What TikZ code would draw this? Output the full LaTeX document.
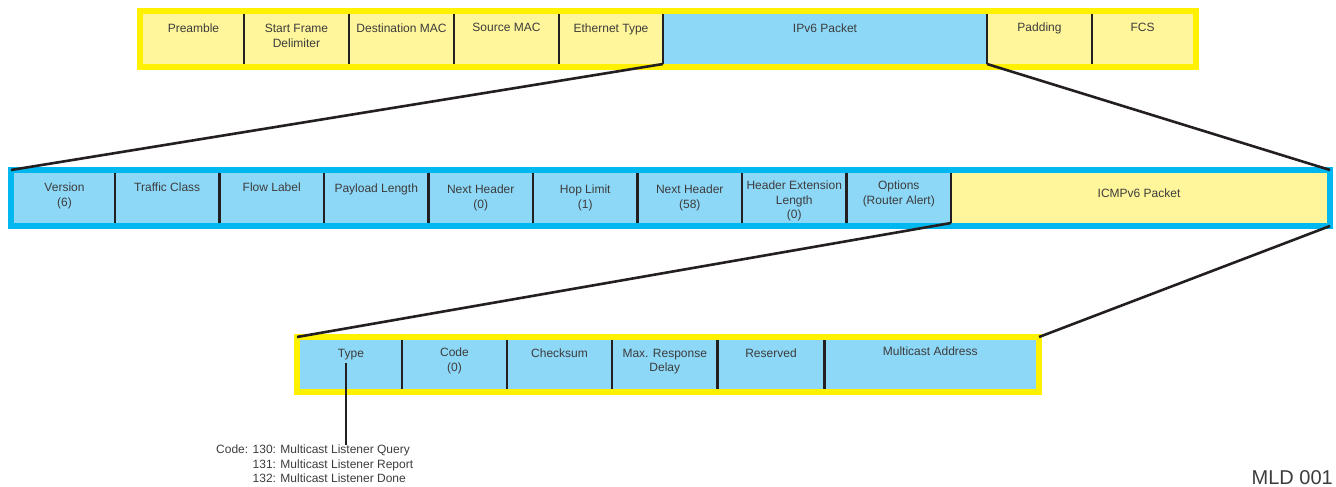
\documentclass[tikz,border=0pt]{standalone}
\usepackage{fontspec}
\setmainfont{Liberation Sans}
\usetikzlibrary{positioning,calc}
\definecolor{ylwB}{HTML}{FFF100}
\definecolor{ylwF}{HTML}{FFF59B}
\definecolor{cynB}{HTML}{00B8EF}
\definecolor{bluF}{HTML}{8ED8F7}
\definecolor{txt}{HTML}{3C3C3C}
\definecolor{ink}{HTML}{231F20}
\tikzset{
  frameY/.style={draw=ylwB, line width=6pt, inner sep=0pt, outer sep=0pt, anchor=north west},
  frameC/.style={draw=cynB, line width=6pt, inner sep=0pt, outer sep=0pt, anchor=north west},
  fld/.style={inner sep=0pt, outer sep=0pt, anchor=north west, minimum height=#1},
  ftxt/.style={font=\fontsize{12}{14.5}\selectfont, text=txt, align=center, anchor=north, inner sep=0pt},
  ctxt/.style={font=\fontsize{12}{14.2}\selectfont, text=txt, align=left, anchor=north west, inner sep=0pt},
  divd/.style={ink, line width=2.8pt},
  zoomln/.style={ink, line width=2.6pt},
  tick/.style={ink, line width=1.3pt},
}

\begin{document}
\begin{tikzpicture}[x=1pt,y=-1pt]
\useasboundingbox (0,0) rectangle (1336,487);

% ============ top row: Ethernet frame ============
\foreach \xa/\xb/\nm/\col/\dy/\txt in {
  143/244/pre/ylwF/10/Preamble,
  244/349/sfd/ylwF/10/{Start Frame\\Delimiter},
  349/454/dmac/ylwF/10/Destination MAC,
  454/559/smac/ylwF/9/Source MAC,
  559/663/etyp/ylwF/10/Ethernet Type,
  663/987/ipv6/bluF/10/IPv6 Packet,
  987/1092/pad/ylwF/9/Padding,
  1092/1193/fcs/ylwF/9/FCS}{
  \node[fld=50, fill=\col, minimum width={\xb-\xa}] (\nm) at (\xa,14) {};
  \node[ftxt] (t\nm) at ([yshift=-\dy]\nm.north) {\txt};}
\node[frameY, minimum width=1056, minimum height=56] (eth) at (140,11) {};
\foreach \nm in {pre,sfd,dmac,smac,etyp,ipv6,pad}
  \draw[divd] (\nm.north east) -- (\nm.south east);

% ============ middle row: IPv6 header ============
\foreach \xa/\xb/\nm/\col/\dy/\txt in {
  14/115/ver/bluF/10/{Version\\(6)},
  115/219.5/tcls/bluF/10/Traffic Class,
  219.5/324/flbl/bluF/10/Flow Label,
  324/428.5/plen/bluF/11/Payload Length,
  428.5/533/nhz/bluF/12/{Next Header\\(0)},
  533/637.5/hlim/bluF/12/{Hop Limit\\(1)},
  637.5/742/nhi/bluF/12/{Next Header\\(58)},
  742/846.5/hel/bluF/8/{Header Extension\\Length\\(0)},
  846.5/951/opts/bluF/8/{Options\\(Router Alert)},
  951/1327/icmpv6/ylwF/16/ICMPv6 Packet}{
  \node[fld=50, fill=\col, minimum width={\xb-\xa}] (\nm) at (\xa,173) {};
  \node[ftxt] (t\nm) at ([yshift=-\dy]\nm.north) {\txt};}
\node[frameC, minimum width=1319, minimum height=56] (ipv) at (11,170) {};
\foreach \nm in {ver,tcls,flbl,plen,nhz,hlim,nhi,hel,opts}
  \draw[divd] (\nm.north east) -- (\nm.south east);

% ============ bottom row: MLD message ============
\foreach \xa/\xb/\nm/\col/\dy/\txt in {
  300/402/type/bluF/9/Type,
  402/507/code/bluF/8/{Code\\(0)},
  507/612/csum/bluF/9/Checksum,
  612/717.5/mrd/bluF/9/{Max. Response\\Delay},
  717.5/824.5/rsv/bluF/9/Reserved,
  824.5/1036/madr/bluF/7/Multicast Address}{
  \node[fld=49, fill=\col, minimum width={\xb-\xa}] (\nm) at (\xa,340) {};
  \node[ftxt] (t\nm) at ([yshift=-\dy]\nm.north) {\txt};}
\node[frameY, minimum width=742, minimum height=55] (icmp) at (297,337) {};
\foreach \nm in {type,code,csum,mrd,rsv}
  \draw[divd] (\nm.north east) -- (\nm.south east);

% zoom lines between the rows
\draw[zoomln] (ipv6.south west) -- (ipv.north west);
\draw[zoomln] (ipv6.south east) -- (ipv.north east);
\draw[zoomln] (icmpv6.south west) -- (icmp.north west);
\draw[zoomln] (ipv.south east) -- (icmp.north east);

% type codes
\node[ctxt] (codes) at (216,445) {Code: 130: Multicast Listener Query\\
  \phantom{Code: }131: Multicast Listener Report\\
  \phantom{Code: }132: Multicast Listener Done};
\draw[tick] ([xshift=-5,yshift=-3]ttype.south) -- ([xshift=-5]ttype.south |- codes.north);

\node[font=\fontsize{20}{24}\selectfont, text=txt, anchor=base east, inner sep=0pt] (mld) at (1333,484) {MLD 001};

\end{tikzpicture}
\end{document}
